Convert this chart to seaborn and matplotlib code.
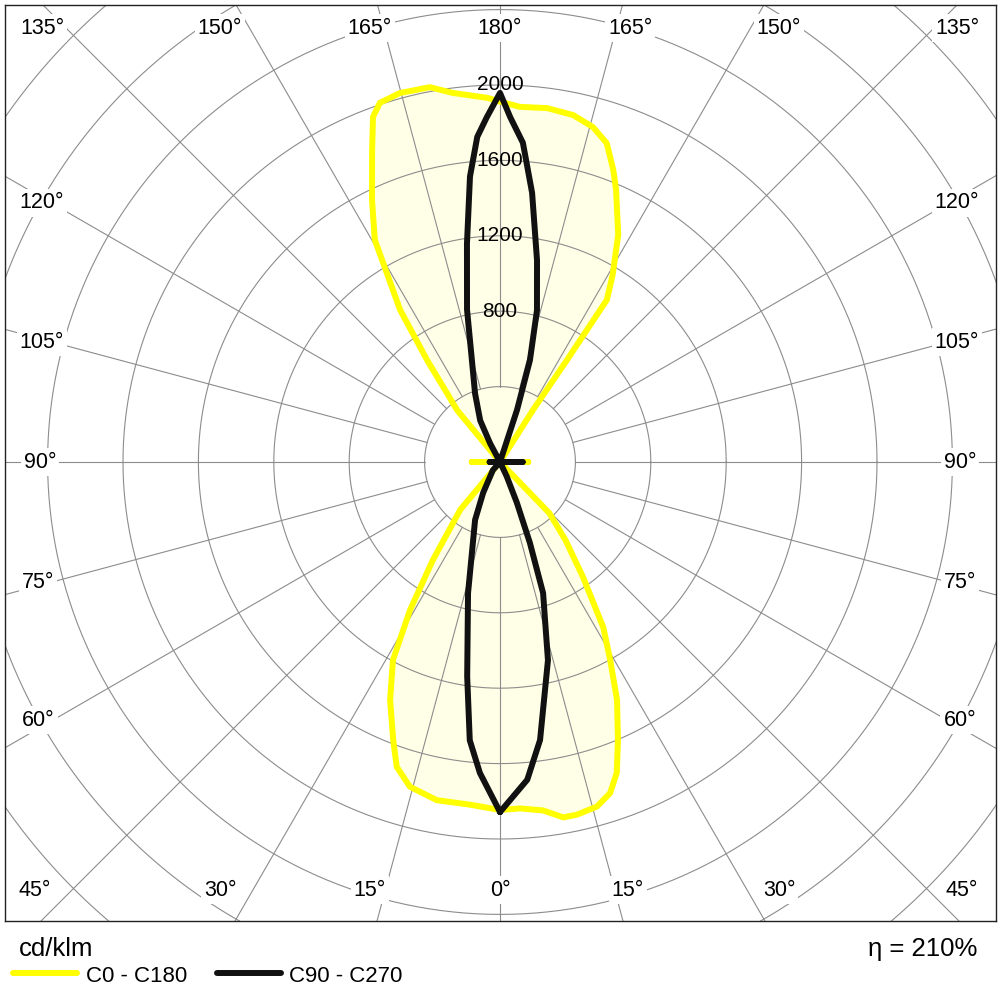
import numpy as np
import pandas as pd
import matplotlib
matplotlib.use("Agg")
import matplotlib.pyplot as plt
from matplotlib.lines import Line2D
import seaborn as sns

# ---------------------------------------------------------------
# Photometric data (gamma in degrees, intensity in cd/klm)
# ---------------------------------------------------------------
# C0 plane (right half of yellow curve)
c0_gamma = [0, 3.3, 7.0, 10.1, 12.3, 15.7, 18.4, 20.6, 23.0, 26.2, 29.1, 32, 35.8,
            40, 44, 52, 85, 90, 95, 140, 147.6, 146.7, 146.6, 148.9, 152.5,
            156.9, 158.8, 161.5, 164.5, 168.1, 172.4, 176.8, 180]
c0_cd = [1846, 1841, 1862, 1915, 1915, 1899, 1851, 1761, 1602, 1406, 1202, 1034, 753,
         540, 377, 0, 0, 150, 0, 0, 329, 647, 1029, 1156, 1358,
         1570, 1662, 1784, 1844, 1881, 1894, 1887, 1912]
# C180 plane (left half of yellow curve)
c180_gamma = [0, 5.0, 10.6, 15.5, 18.7, 21.0, 24.8, 28.4, 31.3, 34.4, 39.8, 50,
              85, 90, 95, 136, 140.4, 144.4, 146.7, 150.6, 154, 157.7,
              159.8, 161.5, 164.8, 169.4, 172.7, 178, 180]
c180_cd = [1846, 1825, 1825, 1788, 1708, 1581, 1390, 1194, 918, 631, 329, 0,
           0, 150, 0, 0, 355, 663, 965, 1353, 1549, 1788,
           1951, 2009, 2028, 2023, 1974, 1933, 1912]
# C90 plane (right half of black curve)
c90_gamma = [0, 4.9, 8.2, 13.6, 18.2, 20.3, 22.5, 25, 40,
             85, 90, 95, 150, 161.9, 163.6, 166.3, 169.6, 173.2, 175.9,
             178.3, 180]
c90_cd = [1857, 1692, 1490, 1082, 732, 456, 233, 85, 0,
          0, 120, 0, 0, 292, 562, 828, 1088, 1438, 1698,
          1830, 1958]
# C270 plane (left half of black curve)
c270_gamma = [0, 3.7, 6.2, 8.7, 13.7, 23.3, 28.7, 41, 55,
              85, 90, 95, 140, 152, 154.5, 160, 164.6, 167.8, 171.4,
              174, 176, 177.8, 180]
c270_cd = [1857, 1653, 1485, 1151, 716, 334, 186, 58, 0,
           0, 55, 0, 0, 111, 244, 387, 562, 828, 1172,
           1523, 1729, 1830, 1958]

ring_values = [400, 800, 1200, 1600, 2000, 2400, 2800, 3200, 3600]
ring_labels = ["800", "1200", "1600", "2000"]
spoke_angles = list(range(0, 360, 15))
series_names = ["C0 - C180", "C90 - C270"]
efficiency = "210%"
unit = "cd/klm"

PX = 0.1885  # pixels per cd/klm
CX, CY = 500, 462  # centre of the diagram in pixels


def to_xy(gamma, cd, side):
    g = np.radians(np.asarray(gamma, dtype=float))
    r = np.asarray(cd, dtype=float)
    return side * r * np.sin(g), -r * np.cos(g)


def curve_frame(g_right, i_right, g_left, i_left, name):
    xr, yr = to_xy(g_right, i_right, 1)
    xl, yl = to_xy(g_left[::-1], i_left[::-1], -1)
    x = np.concatenate([xr, xl, xr[:1]])
    y = np.concatenate([yr, yl, yr[:1]])
    return pd.DataFrame({"x": x, "y": y, "series": name})


yellow = curve_frame(c0_gamma, c0_cd, c180_gamma, c180_cd, series_names[0])
black = curve_frame(c90_gamma, c90_cd, c270_gamma, c270_cd, series_names[1])

sns.set_style("white")
plt.rcParams["font.family"] = ["Liberation Sans", "DejaVu Sans"]
plt.rcParams["text.color"] = "black"

fig = plt.figure(figsize=(10, 10), dpi=100)
ax = fig.add_axes([0.005, 0.079, 0.991, 0.916])
ax.set_xlim(-495 / PX, 496 / PX)
ax.set_ylim(-459 / PX, 457 / PX)
ax.set_xticks([])
ax.set_yticks([])
for s in ax.spines.values():
    s.set_color("#222222")
    s.set_linewidth(1.0)

# pale fill under the curves
ax.fill(yellow["x"], yellow["y"], color="#FFFFE8", zorder=1, lw=0)

# grid: rings and spokes
t = np.linspace(0, 2 * np.pi, 721)
for rv in ring_values:
    ax.plot(rv * np.cos(t), rv * np.sin(t), color="#8c8c8c", lw=0.8, zorder=2)
for a in spoke_angles:
    ar = np.radians(a)
    ax.plot([400 * np.sin(ar), 4000 * np.sin(ar)], [400 * np.cos(ar), 4000 * np.cos(ar)],
            color="#8c8c8c", lw=0.8, zorder=2)

# curves
sns.lineplot(data=yellow, x="x", y="y", sort=False, estimator=None, color="#FFFF00",
             lw=4.3, ax=ax, zorder=3, legend=False, solid_joinstyle="round")
sns.lineplot(data=black, x="x", y="y", sort=False, estimator=None, color="#111111",
             lw=4.3, ax=ax, zorder=4, legend=False, solid_joinstyle="round")
ax.set_xlabel("")
ax.set_ylabel("")

# ring value labels along the upper axis
for lab in ring_labels:
    ax.text(0, float(lab), lab, ha="center", va="center", fontsize=15, zorder=6)

# angle labels (pixel layout)
angle_labels = [
    ("135°", 42, 28), ("150°", 220, 28), ("165°", 370, 28), ("180°", 500, 28),
    ("165°", 630, 28), ("150°", 779, 28), ("135°", 957, 28),
    ("120°", 42, 203), ("105°", 42, 342), ("90°", 40, 462), ("75°", 38, 582),
    ("60°", 38, 720), ("45°", 35, 890),
    ("120°", 957, 203), ("105°", 957, 342), ("90°", 960, 462), ("75°", 960, 582),
    ("60°", 960, 720), ("45°", 962, 890),
    ("30°", 220, 890), ("15°", 370, 890), ("0°", 500, 890),
    ("15°", 628, 890), ("30°", 779, 890),
]
for lab, px, py in angle_labels:
    ax.text((px - CX) / PX, (CY - py) / PX, lab, ha="center", va="center", fontsize=15.5,
            zorder=7, bbox=dict(boxstyle="square,pad=0.15", fc="white", ec="none"))

# footer: unit, legend, efficiency
fig.text(0.019, 0.051, unit, ha="left", va="center", fontsize=18.5)
fig.text(0.977, 0.051, "\u03b7 = " + efficiency, ha="right", va="center", fontsize=18.5)
fig.add_artist(Line2D([0.013, 0.077], [0.027, 0.027], color="#FFFF00", lw=4.3))
fig.text(0.086, 0.023, series_names[0], ha="left", va="center", fontsize=16)
fig.add_artist(Line2D([0.217, 0.281], [0.027, 0.027], color="#111111", lw=4.3))
fig.text(0.289, 0.023, series_names[1], ha="left", va="center", fontsize=16)

fig.savefig("out.png", dpi=100, facecolor="white")
